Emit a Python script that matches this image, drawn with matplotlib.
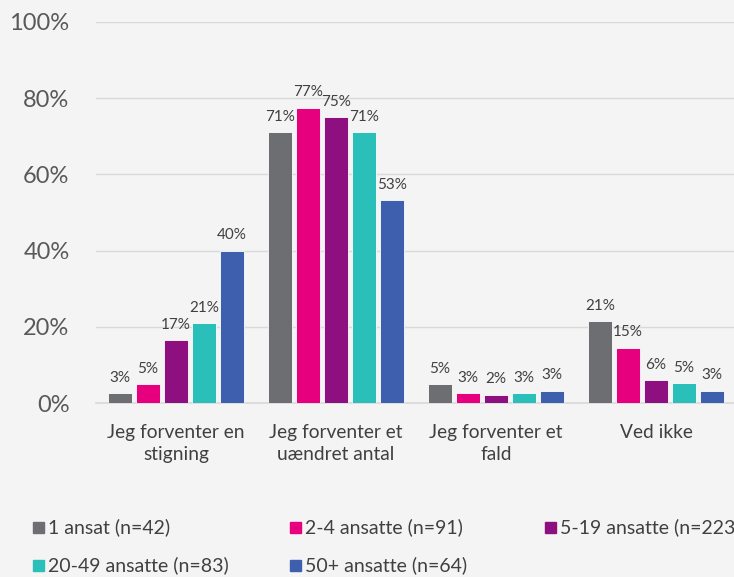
import matplotlib
matplotlib.use("Agg")
import matplotlib.pyplot as plt
from matplotlib.patches import Rectangle
import numpy as np

plt.rcParams['font.family'] = ['Lato', 'DejaVu Sans']

## Data
categories = ["Jeg forventer en\nstigning", "Jeg forventer et\nuændret antal",
              "Jeg forventer et\nfald", "Ved ikke"]
series_names = ["1 ansat (n=42)", "2-4 ansatte (n=91)", "5-19 ansatte (n=223)",
                "20-49 ansatte (n=83)", "50+ ansatte (n=64)"]
one = [2.5, 71, 5, 21.5]
two_four = [5, 77.5, 2.5, 14.5]
five_nineteen = [16.5, 75, 2.2, 6]
twenty_49 = [21, 71, 2.5, 5.2]
fifty_plus = [40, 53.2, 3.2, 3.2]
labels_one = ["3%", "71%", "5%", "21%"]
labels_two = ["5%", "77%", "3%", "15%"]
labels_five = ["17%", "75%", "2%", "6%"]
labels_twenty = ["21%", "71%", "3%", "5%"]
labels_fifty = ["40%", "53%", "3%", "3%"]
colors = ["#6d6e71", "#e6007e", "#8e0f7f", "#2abfb8", "#3d5fae"]

all_values = [one, two_four, five_nineteen, twenty_49, fifty_plus]
all_labels = [labels_one, labels_two, labels_five, labels_twenty, labels_fifty]

bg = "#f4f4f4"
fig = plt.figure(figsize=(7.34, 5.77), dpi=100, facecolor=bg)
ax = fig.add_axes([96 / 734, 1 - 403 / 577, 640 / 734, 381 / 577])
ax.set_facecolor(bg)

x = np.arange(len(categories))
step = 0.175
width = 0.145
for i, vals in enumerate(all_values):
    bars = ax.bar(x + (i - 2) * step, vals, width=width, color=colors[i],
                  edgecolor="white", linewidth=0.6, zorder=3)
    ax.bar_label(bars, labels=all_labels[i], padding=6, fontsize=11,
                 color="#404040")

ax.set_ylim(0, 100)
ax.set_xlim(-0.5, 3.5)
ax.set_yticks([0, 20, 40, 60, 80, 100])
ax.set_yticklabels(["0%", "20%", "40%", "60%", "80%", "100%"])
ax.set_xticks(x)
ax.set_xticklabels(categories, linespacing=1.4)
ax.tick_params(axis="y", length=0, labelsize=17, labelcolor="#595959", pad=19)
ax.tick_params(axis="x", length=0, labelsize=13.8, labelcolor="#404040", pad=15)
ax.grid(axis="y", color="#d9d9d9", linewidth=1, zorder=0)
for s in ["top", "right", "left"]:
    ax.spines[s].set_visible(False)
ax.spines["bottom"].set_color("#d9d9d9")
ax.spines["bottom"].set_linewidth(1.2)

# Legend, laid out by hand to match the original
leg_x = [33, 290, 545, 33, 290]
leg_y = [527, 527, 527, 565, 565]
for i, name in enumerate(series_names):
    px = leg_x[i] / 734
    py = 1 - leg_y[i] / 577
    fig.add_artist(Rectangle((px, py - 6 / 577), 11 / 734, 11 / 577,
                             transform=fig.transFigure, color=colors[i]))
    fig.text(px + 15 / 734, py, name, fontsize=14, color="#404040",
             va="center", ha="left")

fig.savefig("out.png", dpi=100, facecolor=bg)
